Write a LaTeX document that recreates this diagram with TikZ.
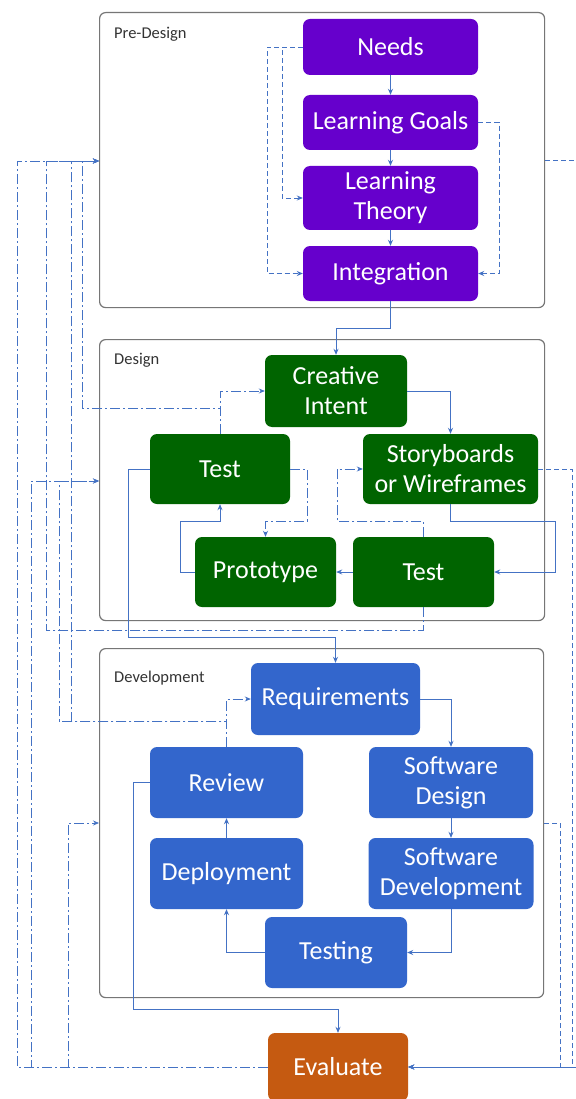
\documentclass[tikz,border=0pt]{standalone}
\usepackage{fontspec}
\setmainfont{Carlito}
\usetikzlibrary{arrows.meta}
\definecolor{cpurple}{HTML}{6600CC}
\definecolor{cgreen}{HTML}{006400}
\definecolor{cblue}{HTML}{3366CC}
\definecolor{corange}{HTML}{C55A11}
\definecolor{cline}{HTML}{4472C4}
\definecolor{cframe}{HTML}{767676}
\definecolor{clabel}{HTML}{333333}
\tikzset{
  box/.style={rounded corners=7pt, inner sep=0pt, align=center, text=white,
    font=\fontsize{26}{30}\selectfont},
  boxP/.style={box, fill=cpurple},
  boxG/.style={box, fill=cgreen},
  boxB/.style={box, fill=cblue},
  boxO/.style={box, fill=corange},
  sz/.style 2 args={minimum width=#1pt, minimum height=#2pt},
  groupbox/.style={draw=cframe, line width=1.2pt, rounded corners=6pt, fill=white,
    anchor=north west, inner sep=0pt},
  grouplabel/.style={anchor=west, text=clabel, inner sep=0pt,
    font=\fontsize{16.5}{19}\selectfont},
  conn/.style={draw=cline, line width=0.8pt, -{Stealth[length=6pt,width=5pt]}},
  dconn/.style={conn, dash pattern=on 5pt off 3pt},
  ddconn/.style={conn, dash pattern=on 10pt off 3pt on 2pt off 3pt},
}
\begin{document}
\begin{tikzpicture}[x=1pt,y=-1pt]
\useasboundingbox[fill=white] (0,0) rectangle (575,1099);

% group boxes
\node[groupbox, minimum width=445pt, minimum height=295pt] (pre) at (99,12) {};
\node[groupbox, minimum width=445pt, minimum height=281pt] (design) at (99,339) {};
\node[groupbox, minimum width=444pt, minimum height=349pt] (dev) at (99,648) {};
\node[grouplabel] (prelabel) at (114,34) {Pre-Design};
\node[grouplabel] (designlabel) at (114,360) {Design};
\node[grouplabel] (devlabel) at (114,678) {Development};

% nodes
\node[boxP, sz={175}{56}] (needs) at (390.5,47) {Needs};
\node[boxP, sz={175}{55}] (goals) at (390.5,122.5) {Learning Goals};
\node[boxP, sz={175}{64}] (theory) at (390.5,198) {Learning\\Theory};
\node[boxP, sz={175}{55}] (integ) at (390.5,273.5) {Integration};

\node[boxG, sz={142}{72}] (creative) at (336,391) {Creative\\Intent};
\node[boxG, sz={140}{70}] (testL) at (220,469) {Test};
\node[boxG, sz={175}{70}] (story) at (450.5,469) {Storyboards\\or Wireframes};
\node[boxG, sz={141}{70}] (proto) at (265.5,572) {Prototype};
\node[boxG, sz={141}{70}] (testR) at (423.5,572) {Test};

\node[boxB, sz={169}{72}] (req) at (335.5,699) {Requirements};
\node[boxB, sz={153}{71}] (review) at (226.5,782.5) {Review};
\node[boxB, sz={164}{71}] (sd) at (451,782.5) {Software\\Design};
\node[boxB, sz={153}{71}] (deploy) at (226.5,873.5) {Deployment};
\node[boxB, sz={165}{71}] (sdev) at (451,873.5) {Software\\Development};
\node[boxB, sz={142}{71}] (testing) at (336,952.5) {Testing};

\node[boxO, sz={140}{68}] (evaluate) at (338,1067) {Evaluate};

% solid connectors
\draw[conn] (needs) -- (goals);
\draw[conn] (goals) -- (theory);
\draw[conn] (theory) -- (integ);
\draw[conn] (integ.south) |- (336,328) -- (creative.north);
\draw[conn] (creative.east) -| (story.north);
\draw[conn] (story.south) |- (555,521) |- (testR.east);
\draw[conn] (testR.west) -- (proto.east);
\draw[conn] (proto.west) -| (180,521) -| (testL.south);
\draw[conn] (testL.west) -| (128,637) -| (req.north);
\draw[conn] (req.east) -| (sd.north);
\draw[conn] (sd) -- (sdev);
\draw[conn] (sdev.south) |- (testing.east);
\draw[conn] (testing.west) -| (deploy.south);
\draw[conn] (deploy) -- (review);
\draw[conn] (review.west) -| (133,1009) -| (evaluate.north);

% dashed connectors
\draw[dconn] (needs.west) -| (282,198) -- (theory.west);
\draw[dconn] (needs.west) -| (267,273.5) -- (integ.west);
\draw[dconn] (goals.east) -| (499,273.5) -- (integ.east);
\draw[dconn] (pre.east |- 0,160) -| (579,1067) -- (evaluate.east);
\draw[dconn] (story.east) -| (572,1067) -- (evaluate.east);
\draw[dconn] (dev.east |- 0,823) -| (560,1067) -- (evaluate.east);

% dash-dot connectors
\draw[ddconn] (testL.north) |- (creative.west);
\draw[ddconn] (testL.north) |- (82,408) |- (pre.west |- 0,161);
\draw[ddconn] (testL.east) -| (307,521) -| (proto.north);
\draw[ddconn] (testR.north) |- (337,521) |- (story.west);
\draw[ddconn] (testR.south) |- (46,630) |- (pre.west |- 0,161);
\draw[ddconn] (review.north) |- (req.west);
\draw[ddconn] (review.north) |- (71,721) |- (pre.west |- 0,161);
\draw[ddconn] (review.north) |- (59,721) |- (design.west |- 0,481);
\draw[ddconn] (evaluate.west) -| (17,161) -- (pre.west |- 0,161);
\draw[ddconn] (evaluate.west) -| (31,481) -- (design.west |- 0,481);
\draw[ddconn] (evaluate.west) -| (68,823) -- (dev.west |- 0,823);
\end{tikzpicture}
\end{document}
